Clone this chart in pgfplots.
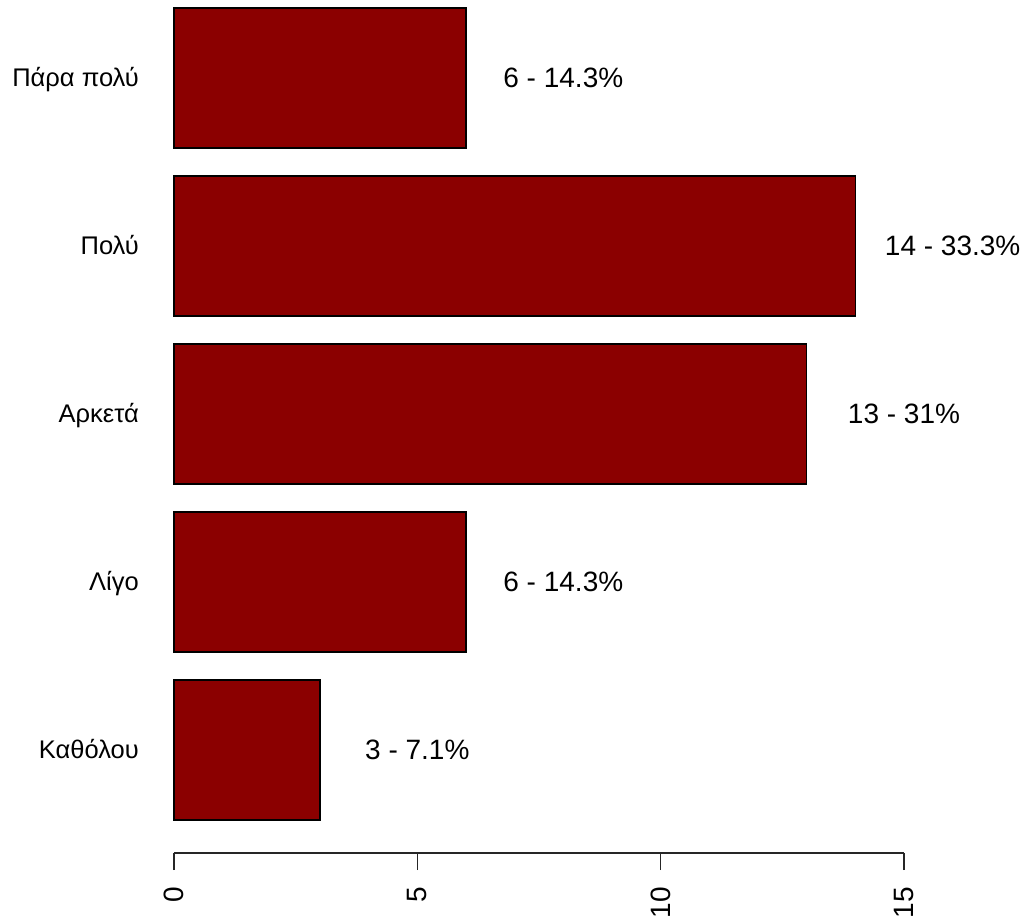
\documentclass[border=0pt]{standalone}
\usepackage{pgfplots}
\usepackage{pgfplotstable}
\pgfplotsset{compat=1.18}
\usepackage{fontspec}
\setmainfont{Liberation Sans}
\definecolor{bardark}{HTML}{8B0000}
\pgfplotstableread[col sep=comma]{
y,x,label
0.7,3,3 - 7.1\%
1.9,6,6 - 14.3\%
3.1,13,13 - 31\%
4.3,14,14 - 33.3\%
5.5,6,6 - 14.3\%
}\datatable
\begin{document}
\begin{tikzpicture}
\path[use as bounding box] (-174pt,-69pt) rectangle (852pt,853pt);
\begin{axis}[
  at={(0,0)}, anchor=south west,
  scale only axis,
  width=730pt, height=845.04pt,
  xmin=0, xmax=15, ymin=-0.036, ymax=6,
  clip=false,
  axis x line*=bottom,
  axis y line*=left,
  y axis line style={draw=none},
  x axis line style={-, line width=1.6pt, color=black!85},
  xtick={0,5,10,15},
  xtick align=outside,
  major tick length=17pt,
  xtick style={line width=1.6pt, color=black!85},
  ytick style={draw=none},
  ytick={0.7,1.9,3.1,4.3,5.5},
  yticklabels={Καθόλου,Λίγο,Αρκετά,Πολύ,Πάρα πολύ},
  /pgf/number format/assume math mode=true,
  xticklabel style={font=\fontsize{28}{34}\selectfont, rotate=90, anchor=east, inner sep=17pt},
  yticklabel style={font=\fontsize{25.5}{31}\selectfont, anchor=base east, inner sep=0pt, xshift=-18pt, yshift=-9pt},
  xbar, bar width=140pt,
  point meta=explicit symbolic,
  nodes near coords,
  every node near coord/.append style={anchor=base, inner sep=0pt, xshift=97.33pt, yshift=-10pt, font=\fontsize{28}{34}\selectfont, text=black},
]
\addplot[fill=bardark, draw=black, line width=1.4pt] table[x=x, y=y, meta=label] {\datatable};
\end{axis}
\end{tikzpicture}
\end{document}
